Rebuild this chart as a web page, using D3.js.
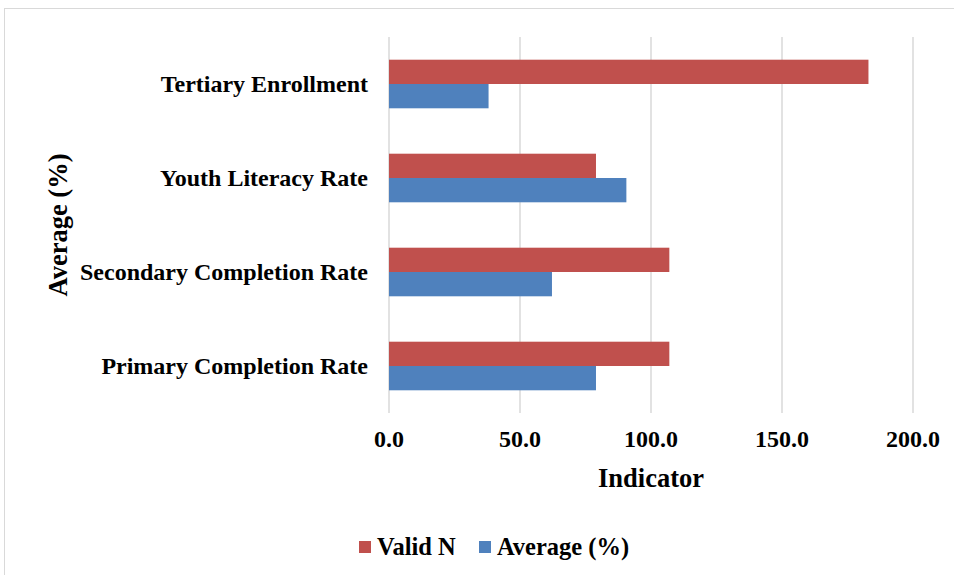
<!DOCTYPE html>
<html><head><meta charset="utf-8">
<script src="https://cdn.jsdelivr.net/npm/d3@7"></script>
<style>body{margin:0;background:#fff}svg{display:block}</style>
</head><body>
<svg id="c" width="954" height="575"></svg>
<script>
const categories = ["Tertiary Enrollment","Youth Literacy Rate","Secondary Completion Rate","Primary Completion Rate"];
const validN = [183, 79, 107, 107];
const average = [38.0, 90.6, 62.2, 79.0];
const seriesNames = ["Valid N","Average (%)"];
const seriesColors = ["#C0504D","#4F81BD"];
const xTicks = [0,50,100,150,200];

(function(){
const svg = d3.select("#c");
const font = "'Liberation Serif','Times New Roman',serif";
svg.append("rect").attr("x",4.5).attr("y",8.5).attr("width",1000).attr("height",1000)
  .attr("fill","#fff").attr("stroke","#d9d9d9").attr("stroke-width",1);

const pLeft=389, pRight=913, pTop=37, pBottom=413;
const x = d3.scaleLinear().domain([0,200]).range([pLeft,pRight]);
const y = d3.scaleBand().domain(categories).range([pTop,pBottom]).paddingInner(0.483).paddingOuter(0.2415);
const ys = d3.scaleBand().domain(seriesNames).range([0,y.bandwidth()]);

svg.append("g").selectAll("line").data(xTicks).join("line")
  .attr("x1",d=>x(d)).attr("x2",d=>x(d)).attr("y1",pTop).attr("y2",pBottom)
  .attr("stroke","#d9d9d9").attr("stroke-width",1.5);

const data = categories.map((c,i)=>({c, vals:[validN[i], average[i]]}));
const g = svg.append("g");
data.forEach(d=>{
  d.vals.forEach((v,j)=>{
    g.append("rect").attr("x",x(0)).attr("y",y(d.c)+ys(seriesNames[j]))
      .attr("width",x(v)-x(0)).attr("height",ys.bandwidth())
      .attr("fill",seriesColors[j]);
  });
});

svg.append("g").selectAll("text").data(xTicks).join("text")
  .attr("x",d=>x(d)).attr("y",447).attr("text-anchor","middle")
  .attr("font-family",font).attr("font-weight","bold").attr("font-size",24)
  .text(d=>d.toFixed(1));

svg.append("g").selectAll("text").data(categories).join("text")
  .attr("x",368).attr("y",d=>y(d)+y.bandwidth()/2+8).attr("text-anchor","end")
  .attr("font-family",font).attr("font-weight","bold").attr("font-size",24)
  .text(d=>d);

svg.append("text").attr("x",651).attr("y",487).attr("text-anchor","middle")
  .attr("font-family",font).attr("font-weight","bold").attr("font-size",26.5).text("Indicator");
svg.append("text").attr("transform","translate(67,225) rotate(-90)").attr("text-anchor","middle")
  .attr("font-family",font).attr("font-weight","bold").attr("font-size",26.5).text("Average (%)");

const lg = svg.append("g");
const legX = [359, 479];
seriesNames.forEach((n,i)=>{
  lg.append("rect").attr("x",legX[i]).attr("y",541).attr("width",12).attr("height",12).attr("fill",seriesColors[i]);
  lg.append("text").attr("x",legX[i]+18).attr("y",554.5).attr("font-family",font).attr("font-weight","bold")
    .attr("font-size",24.5).text(n);
});
})();
</script>
</body></html>
